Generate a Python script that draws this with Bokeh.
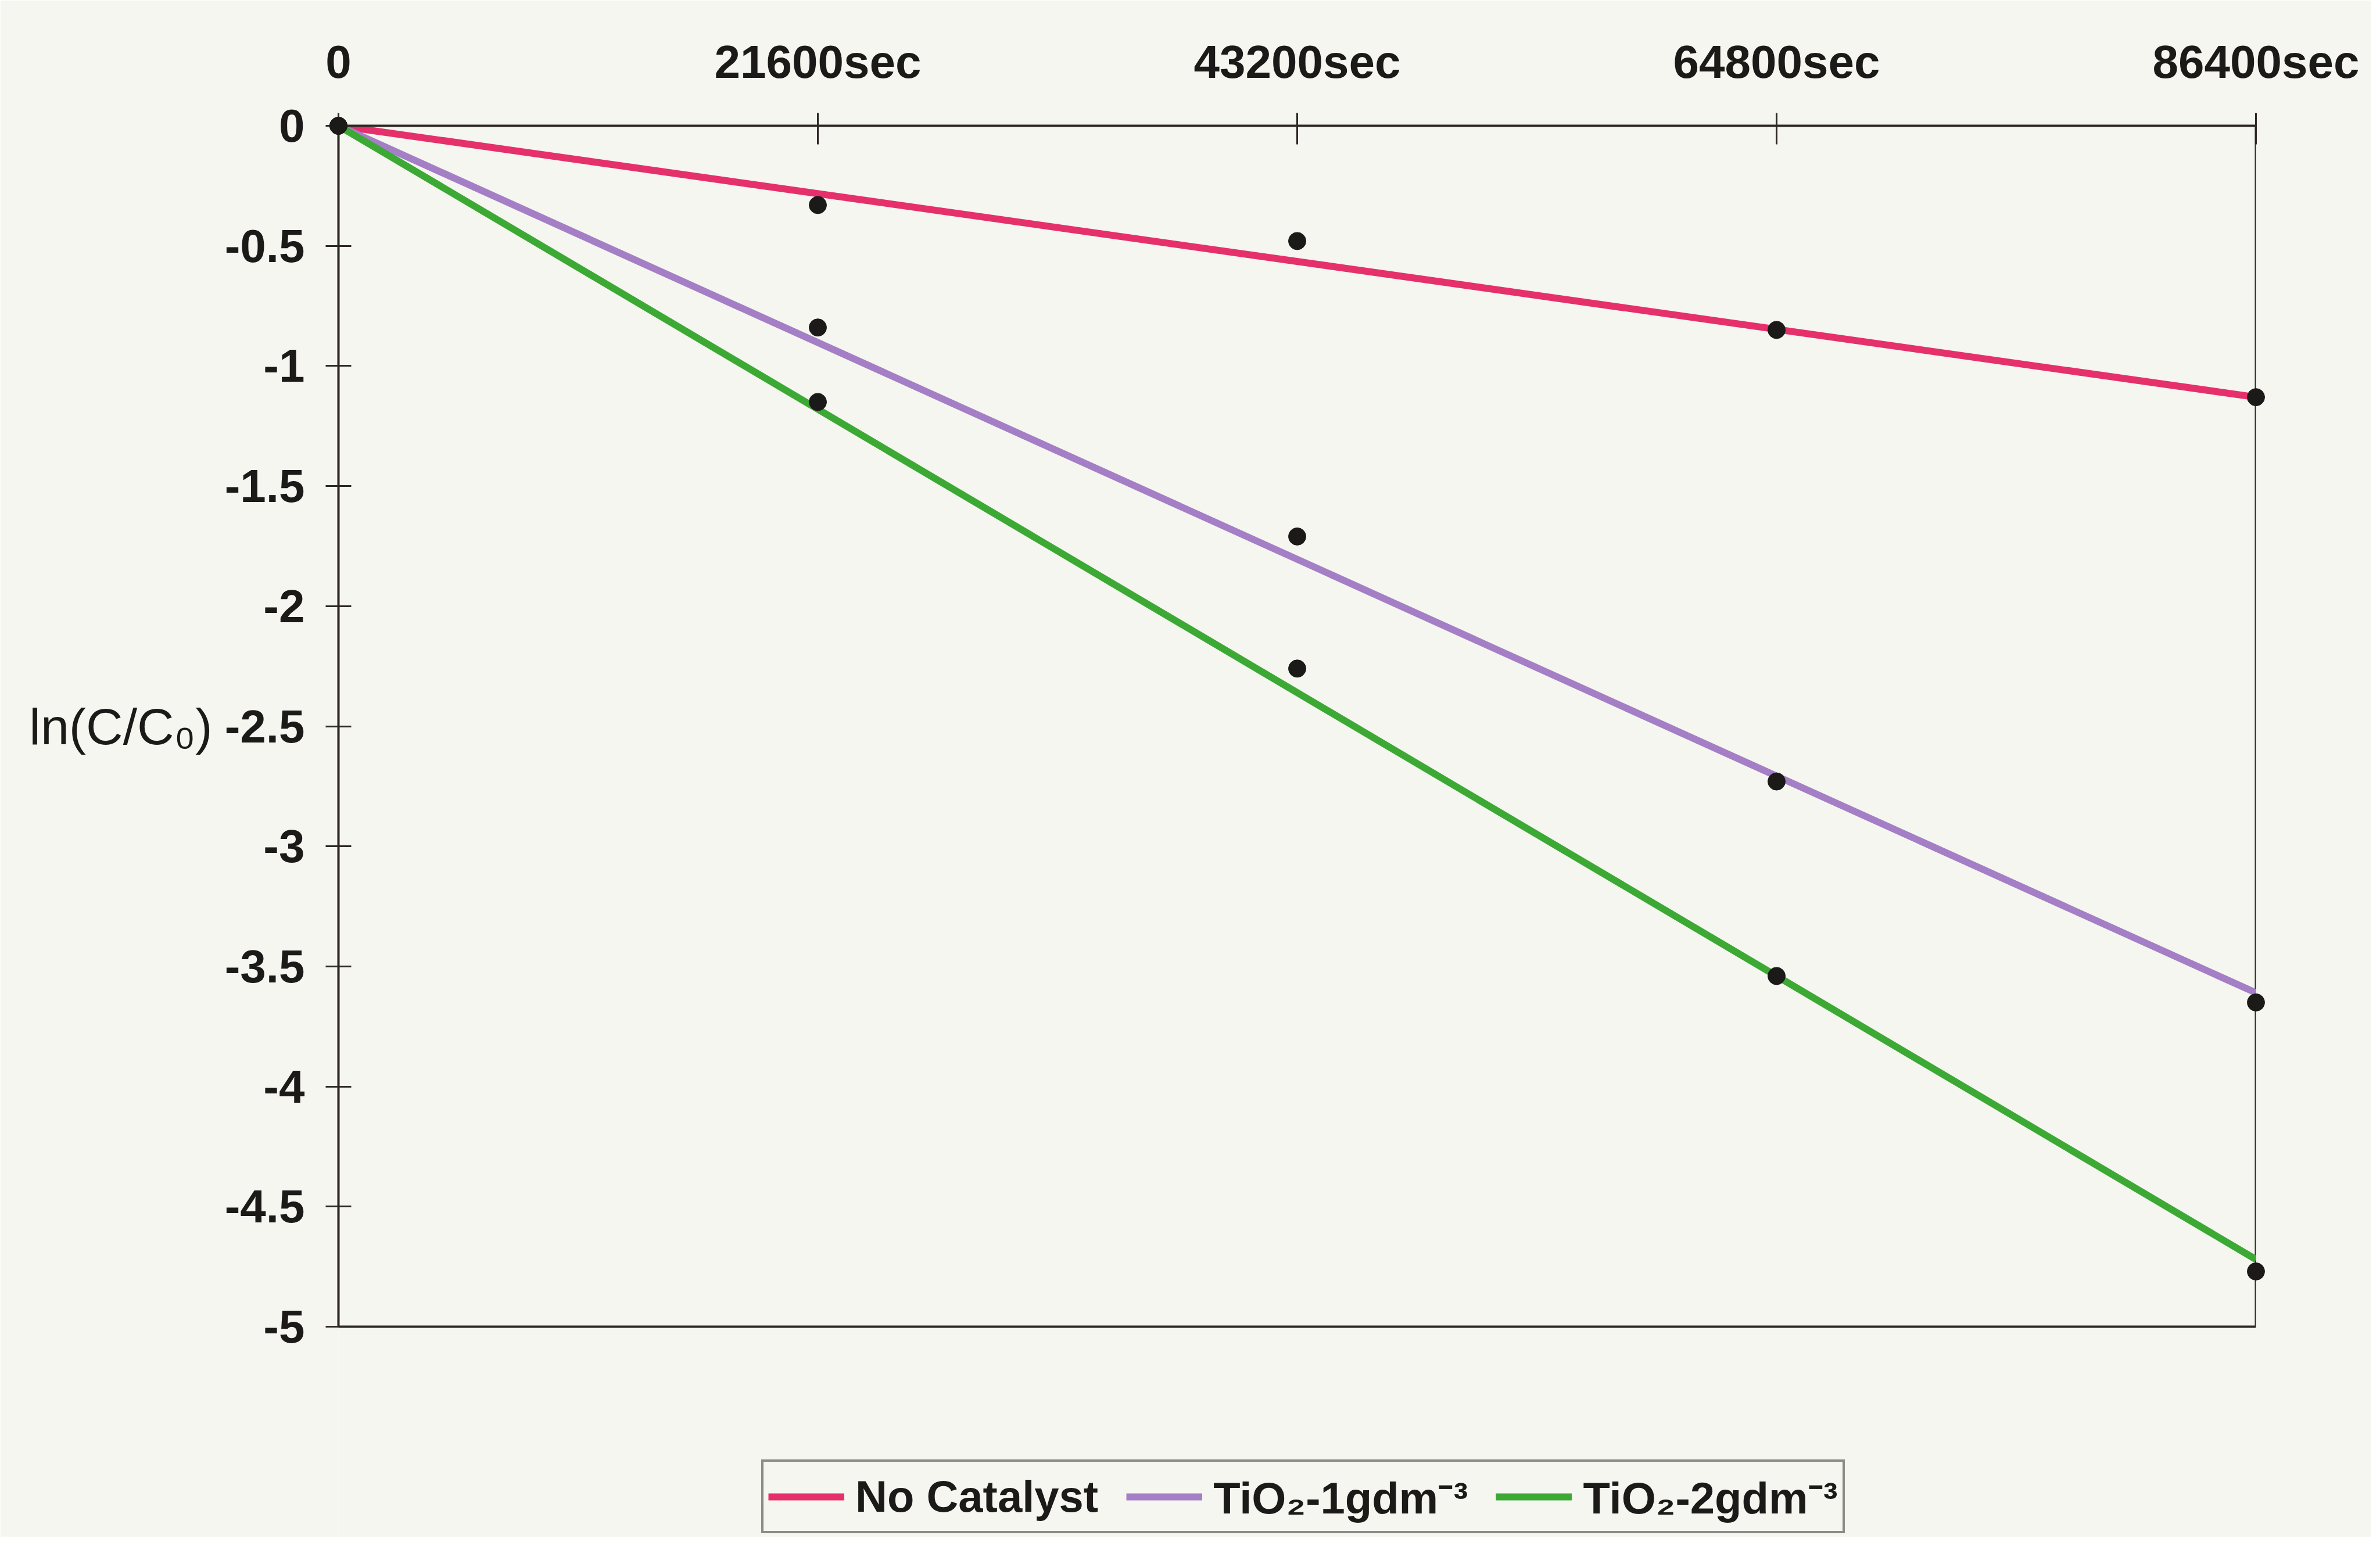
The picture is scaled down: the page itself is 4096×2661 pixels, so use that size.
from bokeh.plotting import figure
from bokeh.models import Range1d, FixedTicker, Legend, LegendItem
from bokeh.core.properties import value
from bokeh.embed import file_html
from bokeh.resources import INLINE

# ---- data ----
time_s = [0, 21600, 43200, 64800, 86400]
ln_no_catalyst = [0, -0.33, -0.48, -0.85, -1.13]
ln_tio2_1 = [0, -0.84, -1.71, -2.73, -3.65]
ln_tio2_2 = [0, -1.15, -2.26, -3.54, -4.77]

trend_time = [0, 86400]
trend_no_catalyst = [0, -1.13]
trend_tio2_1 = [0, -3.61]
trend_tio2_2 = [0, -4.72]

series_names = ["No Catalyst", "TiO\u2082-1gdm\u207B\u00B3", "TiO\u2082-2gdm\u207B\u00B3"]
series_colors = ["#E5306C", "#A47FC6", "#3DA935"]

x_ticks = [0, 21600, 43200, 64800, 86400]
x_tick_labels = ["0", "21600sec", "43200sec", "64800sec", "86400sec"]
y_ticks = [0, -0.5, -1.0, -1.5, -2.0, -2.5, -3.0, -3.5, -4.0, -4.5, -5.0]
y_tick_labels = ["0", "-0.5", "-1", "-1.5", "-2", "-2.5", "-3", "-3.5", "-4", "-4.5", "-5"]
y_axis_title = "ln(C/C\u2080)"

FONT = "Liberation Sans"
BG = "#F5F6EF"
INK = "#1b1a18"
AXIS = "#2e2823"

# layout (figure pixels)
W, H = 4080, 2645
LEFT, RIGHT, TOP = 582, 198, 216
CHART_BOTTOM = 2283          # pixel row of the y = -5 border
TITLE_RIGHT = 365            # right edge of the y title, in figure pixels
px_per_y = (CHART_BOTTOM - TOP) / (y_ticks[0] - y_ticks[-1])
px_per_x = (W - RIGHT - LEFT) / (x_ticks[-1] - x_ticks[0])
y_lo = y_ticks[-1] - (H - CHART_BOTTOM) / px_per_y   # frame extends down to hold the legend

p = figure(width=W, height=H, output_backend="svg", toolbar_location=None,
           x_range=Range1d(x_ticks[0], x_ticks[-1]), y_range=Range1d(y_lo, y_ticks[0]),
           x_axis_location="above",
           min_border_left=LEFT, min_border_right=RIGHT,
           min_border_top=TOP, min_border_bottom=0)
p.background_fill_color = BG
p.border_fill_color = BG
p.outline_line_color = None
p.xgrid.visible = False
p.ygrid.visible = False

xa = p.xaxis[0]
xa.ticker = FixedTicker(ticks=x_ticks)
xa.major_label_overrides = {t: l for t, l in zip(x_ticks, x_tick_labels)}
xa.minor_tick_line_color = None
xa.major_tick_in = 32
xa.major_tick_out = 22
xa.major_label_standoff = 44
xa.axis_line_color = AXIS
xa.axis_line_width = 4
xa.major_tick_line_color = AXIS
xa.major_tick_line_width = 3
xa.major_label_text_font = FONT
xa.major_label_text_font_style = "bold"
xa.major_label_text_font_size = "80px"
xa.major_label_text_color = INK

ya = p.yaxis[0]
ya.bounds = (y_ticks[-1], y_ticks[0])
ya.ticker = FixedTicker(ticks=y_ticks)
ya.major_label_overrides = {t: l for t, l in zip(y_ticks, y_tick_labels)}
ya.minor_tick_line_color = None
ya.major_tick_in = 22
ya.major_tick_out = 22
ya.major_label_standoff = 36
ya.axis_line_color = AXIS
ya.axis_line_width = 4
ya.major_tick_line_color = AXIS
ya.major_tick_line_width = 3
ya.major_label_text_font = FONT
ya.major_label_text_font_style = "bold"
ya.major_label_text_font_size = "80px"
ya.major_label_text_color = INK

# y title, level with the middle of the y scale, left of the tick labels
p.text(x=[x_ticks[0] - (LEFT - TITLE_RIGHT) / px_per_x],
       y=[(y_ticks[0] + y_ticks[-1]) / 2], text=[y_axis_title],
       text_font=value(FONT), text_font_size="88px", text_color=INK,
       text_align="right", text_baseline="middle", level="overlay")

# right and bottom borders of the chart box
p.line([x_ticks[-1], x_ticks[-1]], [y_ticks[0], y_ticks[-1]], line_color=AXIS, line_width=4)
p.line([x_ticks[0], x_ticks[-1]], [y_ticks[-1], y_ticks[-1]], line_color=AXIS, line_width=4)

trends = [trend_no_catalyst, trend_tio2_1, trend_tio2_2]
points = [ln_no_catalyst, ln_tio2_1, ln_tio2_2]
items = []
for name, color, tr in zip(series_names, series_colors, trends):
    r = p.line(trend_time, tr, line_color=color, line_width=12)
    items.append(LegendItem(label=name, renderers=[r]))
for pts in points:
    p.scatter(time_s, pts, size=30, color=INK, level="overlay")

legend = Legend(items=items, orientation="horizontal", location=(728, 6))
legend.label_text_font = FONT
legend.label_text_font_style = "bold"
legend.label_text_font_size = "76px"
legend.label_text_color = INK
legend.glyph_width = 131
legend.glyph_height = 40
legend.label_height = 40
legend.label_standoff = 19
legend.spacing = 48
legend.padding = 8
legend.margin = 0
legend.border_line_color = "#222"
legend.border_line_width = 4
legend.background_fill_color = BG
legend.background_fill_alpha = 1.0
p.add_layout(legend, "center")

open("out.html", "w").write(file_html(p, INLINE))
